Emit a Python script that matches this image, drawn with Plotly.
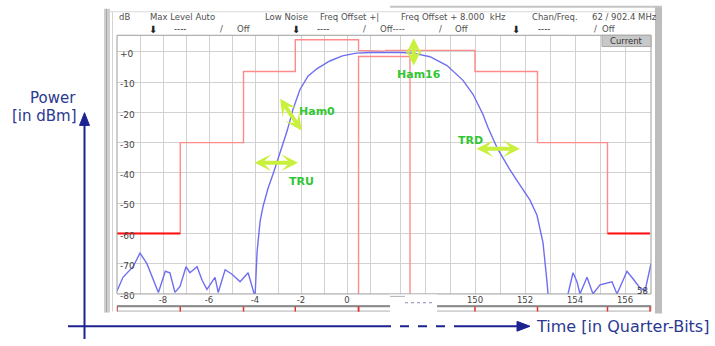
import plotly.graph_objects as go

W, H = 715, 346

# ---------------- data ----------------
# measured burst power (time in quarter-bits, power in dBm)
time_qb = [-10, -9.74, -9.3, -9.0, -8.7, -8.43, -8.2, -7.9, -7.7, -7.48, -7.26, -7.0,
           -6.83, -6.52, -6.3, -6.09, -5.74, -5.6, -5.3, -5.0, -4.65, -4.3, -4.09, -4.0,
           -3.91, -3.78, -3.65, -3.43, -3.2, -2.9, -2.6, -2.35, -2.05, -1.7, -1.3, -0.75,
           -0.2, 0.4, 1.0,
           147.0, 147.52, 148.2, 148.88, 149.52, 149.92, 150.32, 150.52, 150.9, 151.4,
           151.8, 152.2, 152.48, 152.72, 152.88, 152.92,
           153.2, 153.52, 153.72, 153.92, 154.08, 154.2, 154.48, 154.6, 154.72, 155.0,
           155.2, 155.48, 155.68, 156.08, 156.32, 156.6, 156.8, 157.04]
power_dbm = [-79, -74.5, -71, -66.5, -70, -75.5, -79.5, -72.5, -73, -79.5, -77.5, -71,
             -73, -71, -75.5, -78.5, -74.5, -79.5, -72, -73.5, -76, -73, -79, -81,
             -66, -56, -51, -45, -40, -33, -26, -19, -12.5, -8, -5.5, -3,
             -1.3, -0.4, -0.2,
             -0.2, -0.4, -1.6, -4.5, -9.4, -14, -20.7, -25, -32, -39,
             -44, -49, -54, -63, -76, -80,
             -84, -84, -80, -73, -76, -80, -74.5, -77, -80, -77,
             -76.5, -76, -80, -72.5, -75, -78, -79, -70]

# upper limit mask: breakpoints (quarter-bits) and levels (dB) between them
upper_t = [-10, -7.25, -4.5, -2.25, 0.5, 150, 152.5, 155.3, 157]
upper_lvl = [-60, -30, -6.5, 4, 0.5, -6.5, -30, -60]
# lower limit mask (useful part)
lower_t = [0.5, 147.4]
lower_lvl = -1.5
floor_lvl = -80

x_left_ticks = [-8, -6, -4, -2, 0]
x_right_ticks = [150, 152, 154, 156]
y_ticks = [0, -10, -20, -30, -40, -50, -60, -70, -80]
y_ticktext = ["+0", "-10", "-20", "-30", "-40", "-50", "-60", "-70", "-80"]

# ---------------- helpers ----------------
def fx(px):
    return px / W


def fy(py):
    return 1 - py / H


up_x, up_y = [], []
for i, lvl in enumerate(upper_lvl):
    up_x += [upper_t[i], upper_t[i + 1]]
    up_y += [lvl, lvl]
hard_x = [upper_t[0], upper_t[1], None, upper_t[-2], upper_t[-1]]
hard_y = [upper_lvl[0], upper_lvl[0], None, upper_lvl[-1], upper_lvl[-1]]
low_x = [lower_t[0], lower_t[0], lower_t[1], lower_t[1]]
low_y = [floor_lvl, lower_lvl, lower_lvl, floor_lvl]

fig = go.Figure()
for xa in ["x", "x2"]:
    fig.add_trace(go.Scatter(x=up_x, y=up_y, xaxis=xa, yaxis="y", mode="lines",
                             line=dict(color="#ff8a8a", width=1.4), hoverinfo="skip"))
    fig.add_trace(go.Scatter(x=low_x, y=low_y, xaxis=xa, yaxis="y", mode="lines",
                             line=dict(color="#ff8a8a", width=1.4), hoverinfo="skip"))
    fig.add_trace(go.Scatter(x=hard_x, y=hard_y, xaxis=xa, yaxis="y", mode="lines",
                             line=dict(color="#ff1010", width=2), hoverinfo="skip"))
    fig.add_trace(go.Scatter(x=time_qb, y=power_dbm, xaxis=xa, yaxis="y", mode="lines",
                             line=dict(color="#6e6ef2", width=1.4), hoverinfo="skip"))

SMALL = "DejaVu Sans, Verdana, sans-serif"
grid = "#d2d2d2"
tickfont = dict(family=SMALL, size=8.5, color="#444")
ydom = [fy(300), fy(36)]
fig.update_layout(
    width=W, height=H, autosize=False,
    margin=dict(l=0, r=0, t=0, b=0),
    paper_bgcolor="white", plot_bgcolor="white",
    showlegend=False,
    xaxis=dict(domain=[fx(117), fx(385)], range=[-10, 1.65], anchor="y",
               tickvals=x_left_ticks, ticktext=[str(v) for v in x_left_ticks],
               showgrid=True, gridcolor=grid, gridwidth=1, zeroline=False,
               minor=dict(dtick=1, tick0=0, showgrid=True, gridcolor=grid, gridwidth=1),
               ticks="", tickfont=tickfont, showline=False, fixedrange=True),
    xaxis2=dict(domain=[fx(385), fx(651)], range=[146.4, 157.04], anchor="y",
                tickvals=x_right_ticks, ticktext=[str(v) for v in x_right_ticks],
                showgrid=True, gridcolor=grid, gridwidth=1, zeroline=False,
                minor=dict(dtick=1, tick0=0, showgrid=True, gridcolor=grid, gridwidth=1),
                ticks="", tickfont=tickfont, showline=False, fixedrange=True),
    yaxis=dict(domain=ydom, range=[-80, 5.5], anchor="x",
               tickvals=y_ticks, ticktext=y_ticktext, ticklabelposition="inside",
               ticklabeloverflow="allow", ticklabelshift=2, ticks="",
               tickfont=dict(family=SMALL, size=9, color="#444"),
               showgrid=True, gridcolor=grid, gridwidth=1, zeroline=False,
               showline=False, fixedrange=True),
)

navy = "#1c2290"
shapes = []
# instrument frame
shapes.append(dict(type="rect", xref="paper", yref="paper", x0=fx(104), x1=fx(110),
                   y0=fy(319), y1=fy(9), fillcolor="#cfcfcf", line=dict(width=0)))
shapes.append(dict(type="line", xref="paper", yref="paper", x0=fx(106.5), x1=fx(106.5),
                   y0=fy(319), y1=fy(9), line=dict(color="#a8a8a8", width=1)))
shapes.append(dict(type="line", xref="paper", yref="paper", x0=fx(112.5), x1=fx(112.5),
                   y0=fy(318), y1=fy(12), line=dict(color="#d4d4d4", width=1)))
shapes.append(dict(type="rect", xref="paper", yref="paper", x0=fx(655), x1=fx(662),
                   y0=fy(320), y1=fy(6), fillcolor="#bdbdbd", line=dict(width=0)))
shapes.append(dict(type="line", xref="paper", yref="paper", x0=fx(390), x1=fx(662),
                   y0=fy(7), y1=fy(7), line=dict(color="#c4c4c4", width=2)))
shapes.append(dict(type="line", xref="paper", yref="paper", x0=fx(110), x1=fx(655),
                   y0=fy(12), y1=fy(12), line=dict(color="#dadada", width=1)))
# plot border
shapes.append(dict(type="rect", xref="paper", yref="paper", x0=fx(117), x1=fx(651),
                   y0=fy(300), y1=fy(36), line=dict(color="#9c9c9c", width=1)))
# bottom ruler bar
shapes.append(dict(type="rect", xref="paper", yref="paper", x0=fx(117), x1=fx(651),
                   y0=fy(317.5), y1=fy(312), fillcolor="white",
                   line=dict(color="#b0b0b0", width=1)))
shapes.append(dict(type="line", xref="paper", yref="paper", x0=fx(117), x1=fx(651),
                   y0=fy(312.5), y1=fy(312.5), line=dict(color="#8a8a8a", width=2)))
# red breakpoint ticks on the ruler
marks = upper_t + lower_t
for t in marks:
    xr = "x" if t < 100 else "x2"
    shapes.append(dict(type="line", xref=xr, yref="paper", x0=t, x1=t,
                       y0=fy(318), y1=fy(313), line=dict(color="#e83030", width=1.5)))
# axis break
shapes.append(dict(type="rect", xref="paper", yref="paper", x0=fx(390), x1=fx(437),
                   y0=fy(320), y1=fy(300.6), fillcolor="white", line=dict(width=0)))
shapes.append(dict(type="line", xref="paper", yref="paper", x0=fx(390), x1=fx(405),
                   y0=fy(302.5), y1=fy(302.5), line=dict(color="#b0b0b0", width=1)))
shapes.append(dict(type="line", xref="paper", yref="paper", x0=fx(405), x1=fx(432),
                   y0=fy(309), y1=fy(309), line=dict(color="#8a8ab8", width=1, dash="dot")))
# "Current" box
shapes.append(dict(type="rect", xref="paper", yref="paper", x0=fx(602), x1=fx(651),
                   y0=fy(47.5), y1=fy(36), fillcolor="#c8c8c8",
                   line=dict(color="#a8a8a8", width=1)))
# outer axes (power / time)
shapes.append(dict(type="line", xref="paper", yref="paper", x0=fx(84.5), x1=fx(84.5),
                   y0=fy(346), y1=fy(126), line=dict(color=navy, width=2)))
shapes.append(dict(type="path", xref="paper", yref="paper",
                   path=f"M {fx(79.5)},{fy(128)} L {fx(84.5)},{fy(115)} L {fx(89.5)},{fy(128)} Z",
                   fillcolor=navy, line=dict(color=navy, width=1)))
shapes.append(dict(type="line", xref="paper", yref="paper", x0=fx(68), x1=fx(382),
                   y0=fy(333), y1=fy(333), line=dict(color=navy, width=2)))
shapes.append(dict(type="line", xref="paper", yref="paper", x0=fx(382), x1=fx(463),
                   y0=fy(333), y1=fy(333), line=dict(color=navy, width=2, dash="dash")))
shapes.append(dict(type="line", xref="paper", yref="paper", x0=fx(463), x1=fx(520),
                   y0=fy(333), y1=fy(333), line=dict(color=navy, width=2)))
shapes.append(dict(type="path", xref="paper", yref="paper",
                   path=f"M {fx(517)},{fy(328)} L {fx(530)},{fy(333)} L {fx(517)},{fy(338)} Z",
                   fillcolor=navy, line=dict(color=navy, width=1)))
fig.update_layout(shapes=shapes)

ann = []
hdr = dict(family=SMALL, size=8.5, color="#505050")


def txt(px, py, s, font=hdr, anchor="left"):
    ann.append(dict(xref="paper", yref="paper", x=fx(px), y=fy(py), text=s,
                    showarrow=False, xanchor=anchor, yanchor="middle", font=font))


row1 = [(117, "dB"), (148, "Max Level Auto"), (263, "Low Noise"), (318, "Freq Offset +|"),
        (399, "Freq Offset + 8.000  kHz"), (530, "Chan/Freq."), (590, "62 / 902.4 MHz")]
for px, s in row1:
    txt(px, 17.5, s)
row2 = [(147, "⬇"), (172, "----"), (218, "/"), (235, "Off"), (290, "⬇"), (315, "----"),
        (361, "/"), (378, "Off----"), (437, "/"), (453, "Off"), (510, "⬇"), (536, "----"),
        (592, "/"), (600, "Off")]
for px, s in row2:
    f = dict(hdr)
    if s in ("⬇", "----"):
        f["color"] = "#222"
    if s == "⬇":
        f["size"] = 10
    txt(px, 30, s, f)
txt(626.5, 42, "Current", dict(family=SMALL, size=8.5, color="#333"), "center")
txt(650, 297, "58", dict(family=SMALL, size=8.5, color="#333"), "right")

big = dict(family=SMALL, size=15, color="#2b3990")
txt(53, 100, "Power", big, "center")
txt(44, 118, "[in dBm]", big, "center")
txt(534, 333, "Time [in Quarter-Bits]", dict(family=SMALL, size=16, color="#2b3990"))

# green markers (annotations in data coordinates)
lime = "#c9f03c"
green = dict(family=SMALL, size=11, color="#33c633")
arrows = [("x", -2.13, -36.6, -4.09, -36.6), ("x", -1.98, -26.0, -2.95, -15.0),
          ("x2", 147.55, -4.5, 147.55, 5.0), ("x2", 151.8, -32, 150.0, -32)]
for xr, x1, y1, x0, y0 in arrows:
    ann.append(dict(xref=xr, yref="y", x=x1, y=y1, axref=xr, ayref="y", ax=x0, ay=y0,
                    text="", showarrow=True, arrowside="end+start", arrowhead=3,
                    startarrowhead=3, arrowsize=0.7, startarrowsize=0.7,
                    arrowwidth=4, arrowcolor=lime))
labels = [("x", -2.0, -42.7, "<b>TRU</b>"), ("x", -1.3, -19.7, "<b>Ham0</b>"),
          ("x2", 147.75, -7.4, "<b>Ham16</b>"), ("x2", 149.8, -29.4, "<b>TRD</b>")]
for xr, x, y, s in labels:
    ann.append(dict(xref=xr, yref="y", x=x, y=y, text=s, showarrow=False,
                    xanchor="center", yanchor="middle", font=green))
fig.update_layout(annotations=ann)

fig.write_html("out.html", config={"displayModeBar": False},
               post_script="document.body.style.margin='0';document.body.style.padding='0';")
